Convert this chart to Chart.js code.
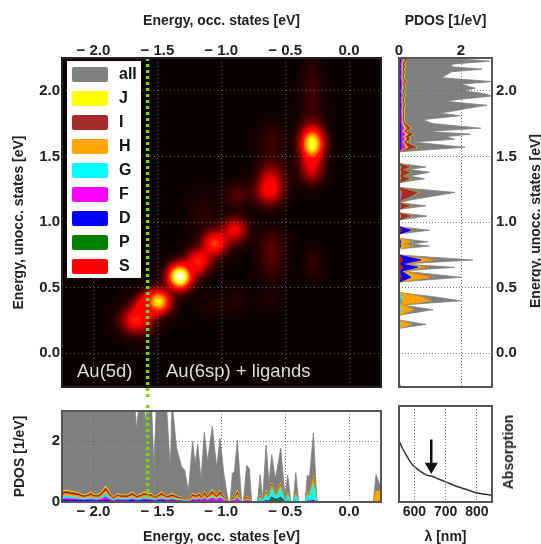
<!DOCTYPE html>
<html>
<head>
<meta charset="utf-8">
<script src="https://cdn.jsdelivr.net/npm/chart.js@4"></script>
<style>
  html, body { margin: 0; background: #fff; overflow: hidden; }
  #page { position: relative; width: 541px; height: 544px; font-family: "Liberation Sans", Arial, sans-serif; filter: blur(0.4px); }
  canvas { position: absolute; }
  .rot { position: absolute; font-weight: bold; font-size: 14px; color: #222; white-space: nowrap; transform: translate(-50%, -50%) rotate(-90deg); }
  .note { position: absolute; color: #ddd; font-size: 18.5px; white-space: nowrap; }
  #legend { position: absolute; left: 67px; top: 61px; width: 74px; height: 217px; background: #fff; }
  #legend div { position: absolute; left: 4.5px; width: 36px; height: 15px; border-radius: 2px; }
  #legend span { position: absolute; left: 52px; font-weight: bold; font-size: 16px; line-height: 18px; color: #111; }
</style>
</head>
<body>
<div id="page">
  <canvas id="mainChart" width="395" height="400" style="left:0;top:0"></canvas>
  <canvas id="rightChart" width="146" height="400" style="left:395px;top:0"></canvas>
  <canvas id="bottomChart" width="395" height="144" style="left:0;top:400px"></canvas>
  <canvas id="absChart" width="146" height="144" style="left:395px;top:400px"></canvas>
  <div id="legend"></div>
  <div class="note" style="left:77px;top:360px">Au(5d)</div>
  <div class="note" style="left:166px;top:360px">Au(6sp) + ligands</div>
  <div class="rot" style="left:535px;top:221px">Energy, unocc. states [eV]</div>
  <div class="rot" style="left:508px;top:452px">Absorption</div>
</div>
<script>
const legendNames = ["all", "J", "I", "H", "G", "F", "D", "P", "S"];
const legendColors = ["#808080", "#ffff00", "#a52a2a", "#ffa500", "#00ffff", "#ff00ff", "#0000ff", "#008000", "#ff0000"];

const occTicks = [-2.0, -1.5, -1.0, -0.5, 0.0];
const unoccTicks = [0.0, 0.5, 1.0, 1.5, 2.0];
const pdosSideTicks = [0, 2];
const pdosBottomTicks = [0, 2];
const lambdaTicks = [600, 700, 800];
const fermiLine = -1.576;

// bright spots of the transition map: occ energy, unocc energy, strength, widths in eV
const spotOcc = [-0.288, -0.293, -0.29, -0.624, -0.606, -0.606, -0.867, -0.893, -1.05, -1.18, -1.323, -1.493, -1.662, -1.585, -0.606, -0.606, -0.28, -0.606, -0.88, -1.06, -1.14];
const spotUnocc = [1.594, 1.396, 1.95, 1.231, 1.345, 1.61, 1.206, 0.939, 0.838, 0.698, 0.584, 0.393, 0.254, 0.368, 0.838, 0.685, 0.685, 0.406, 0.406, 0.355, 1.066];
const spotValue = [0.82, 0.26, 0.07, 0.32, 0.22, 0.07, 0.1, 0.34, 0.46, 0.42, 1.0, 0.74, 0.42, 0.38, 0.08, 0.08, 0.06, 0.03, 0.03, 0.03, 0.04];
const spotWidthOcc = [0.06, 0.06, 0.06, 0.07, 0.07, 0.07, 0.07, 0.065, 0.065, 0.065, 0.063, 0.065, 0.08, 0.06, 0.07, 0.07, 0.05, 0.06, 0.06, 0.07, 0.08];
const spotWidthUnocc = [0.085, 0.07, 0.22, 0.07, 0.08, 0.09, 0.06, 0.065, 0.065, 0.065, 0.063, 0.06, 0.07, 0.055, 0.08, 0.09, 0.07, 0.06, 0.06, 0.06, 0.11];

// side panel, top to bottom. Series are the running totals as they show on the picture
const sideEnergy = [
  2.246, 2.226, 2.203, 2.183, 2.165, 2.145, 2.10, 2.07, 2.05, 2.02,
  2.00, 1.98, 1.96, 1.94, 1.92, 1.89, 1.865, 1.85, 1.83, 1.81,
  1.78, 1.75, 1.715, 1.69, 1.67, 1.65, 1.63, 1.61, 1.57, 1.535,
  1.447, 1.42, 1.40, 1.38, 1.35, 1.33, 1.30, 1.264, 1.226, 1.19,
  1.17, 1.147, 1.124, 1.096, 1.071, 1.046, 1.015, 0.965, 0.937, 0.909,
  0.876, 0.85, 0.833, 0.817, 0.795, 0.749, 0.711, 0.68, 0.655, 0.627,
  0.579, 0.543, 0.462, 0.437, 0.40, 0.368, 0.332, 0.29, 0.254, 0.22,
  0.19, -0.24, -0.257
];
const sideAll = [
  1.8, 2.93, 1.7, 1.7, 2.68, 1.7, 1.37, 3.0, 2.0, 2.46,
  2.1, 2.7, 3.0, 2.15, 1.48, 2.84, 2.18, 1.85, 1.31, 1.97,
  0.77, 1.1, 2.64, 0.93, 2.3, 1.5, 1.8, 0.44, 2.13, 0,
  0, 0.87, 0.33, 0.98, 0.33, 0.82, 0, 0, 1.8, 0.93,
  0.4, 0, 0.87, 0, 0, 0.9, 0, 0, 0.98, 0,
  0, 0.93, 0.4, 0.98, 0, 0, 2.38, 0.1, 1.8, 0.1,
  2.0, 0, 0, 0.93, 2.0, 0.1, 1.1, 0, 0, 0.87,
  0, 0, 0.1
];
const sideJ = [
  0.22, 0.24, 0.17, 0.22, 0.16, 0.19, 0.16, 0.24, 0.18, 0.22,
  0.16, 0.19, 0.22, 0.16, 0.15, 0.22, 0.16, 0.16, 0.15, 0.19,
  0.16, 0.22, 0.38, 0.22, 0.47, 0.32, 0.37, 0.22, 0.57, 0,
  0, 0.37, 0.11, 0.37, 0.11, 0.37, 0, 0, 0.62, 0.37,
  0.11, 0, 0.37, 0, 0, 0.4, 0, 0, 0.46, 0,
  0, 0.44, 0.13, 0.44, 0, 0, 1.17, 0.13, 0.92, 0.13,
  1.07, 0, 0, 0.64, 1.04, 0.11, 0.49, 0, 0, 0.4,
  0, 0, 0.1
];
const sideI = [
  0.2, 0.22, 0.15, 0.2, 0.14, 0.17, 0.14, 0.22, 0.16, 0.2,
  0.14, 0.17, 0.2, 0.14, 0.13, 0.2, 0.14, 0.14, 0.13, 0.17,
  0.14, 0.2, 0.36, 0.2, 0.45, 0.3, 0.35, 0.2, 0.55, 0,
  0, 0.35, 0.1, 0.35, 0.1, 0.35, 0, 0, 0.6, 0.35,
  0.1, 0, 0.35, 0, 0, 0.38, 0, 0, 0.44, 0,
  0, 0.42, 0.12, 0.42, 0, 0, 1.15, 0.12, 0.9, 0.12,
  1.05, 0, 0, 0.62, 1.02, 0.1, 0.47, 0, 0, 0.38,
  0, 0, 0.1
];
const sideH = [
  0.14, 0.16, 0.11, 0.14, 0.11, 0.13, 0.11, 0.16, 0.12, 0.15,
  0.11, 0.13, 0.15, 0.11, 0.1, 0.15, 0.11, 0.11, 0.1, 0.13,
  0.11, 0.15, 0.26, 0.15, 0.3, 0.2, 0.25, 0.15, 0.3, 0,
  0, 0.06, 0.03, 0.06, 0.03, 0.05, 0, 0, 0.08, 0.05,
  0.03, 0, 0.06, 0, 0, 0.06, 0, 0, 0.42, 0,
  0, 0.4, 0.12, 0.4, 0, 0, 1.1, 0.12, 0.85, 0.12,
  1.0, 0, 0, 0.6, 1.0, 0.1, 0.45, 0, 0, 0.38,
  0, 0, 0.1
];
const sideG = [
  0.1, 0.11, 0.08, 0.1, 0.08, 0.1, 0.08, 0.11, 0.09, 0.11,
  0.08, 0.09, 0.11, 0.08, 0.08, 0.11, 0.09, 0.08, 0.08, 0.1,
  0.09, 0.1, 0.18, 0.11, 0.22, 0.14, 0.19, 0.12, 0.22, 0,
  0, 0.04, 0.02, 0.04, 0.02, 0.04, 0, 0, 0.05, 0.04,
  0.02, 0, 0.04, 0, 0, 0.04, 0, 0, 0.4, 0,
  0, 0.08, 0.04, 0.08, 0, 0, 0.75, 0.1, 0.66, 0.1,
  0.42, 0, 0, 0.07, 0.08, 0.03, 0.07, 0, 0, 0.05,
  0, 0, 0.1
];
const sideF = [
  0.08, 0.09, 0.06, 0.08, 0.06, 0.08, 0.06, 0.09, 0.07, 0.09,
  0.06, 0.07, 0.09, 0.06, 0.06, 0.09, 0.07, 0.06, 0.06, 0.08,
  0.07, 0.08, 0.16, 0.09, 0.2, 0.12, 0.17, 0.1, 0.2, 0,
  0, 0.03, 0.01, 0.03, 0.01, 0.03, 0, 0, 0.04, 0.03,
  0.01, 0, 0.03, 0, 0, 0.03, 0, 0, 0.39, 0,
  0, 0.06, 0.03, 0.06, 0, 0, 0.71, 0.09, 0.61, 0.09,
  0.39, 0, 0, 0.03, 0.04, 0.02, 0.03, 0, 0, 0.03,
  0, 0, 0.05
];
const sideD = [
  0.04, 0.05, 0.03, 0.04, 0.03, 0.04, 0.03, 0.05, 0.04, 0.05,
  0.03, 0.04, 0.05, 0.03, 0.03, 0.05, 0.03, 0.03, 0.03, 0.04,
  0.03, 0.04, 0.06, 0.04, 0.07, 0.05, 0.06, 0.04, 0.07, 0,
  0, 0.02, 0.01, 0.02, 0.01, 0.02, 0, 0, 0.03, 0.02,
  0.01, 0, 0.02, 0, 0, 0.02, 0, 0, 0.38, 0,
  0, 0.05, 0.03, 0.05, 0, 0, 0.7, 0.08, 0.6, 0.08,
  0.38, 0, 0, 0.02, 0.03, 0.01, 0.02, 0, 0, 0.02,
  0, 0, 0.05
];
const sideP = [
  0.015, 0.015, 0.015, 0.015, 0.015, 0.015, 0.015, 0.015, 0.015, 0.015,
  0.015, 0.015, 0.015, 0.015, 0.015, 0.015, 0.015, 0.015, 0.015, 0.015,
  0.015, 0.015, 0.015, 0.015, 0.025, 0.015, 0.025, 0.015, 0.035, 0,
  0, 0.01, 0, 0.01, 0, 0.01, 0, 0, 0.01, 0.01,
  0, 0, 0.01, 0, 0, 0.01, 0, 0, 0.09, 0,
  0, 0.01, 0, 0.01, 0, 0, 0.13, 0.02, 0.13, 0.02,
  0.07, 0, 0, 0.01, 0.01, 0, 0.01, 0, 0, 0.01,
  0, 0, 0.05
];
const sideS = [
  0.01, 0.01, 0.01, 0.01, 0.01, 0.01, 0.01, 0.01, 0.01, 0.01,
  0.01, 0.01, 0.01, 0.01, 0.01, 0.01, 0.01, 0.01, 0.01, 0.01,
  0.01, 0.01, 0.01, 0.01, 0.02, 0.01, 0.02, 0.01, 0.03, 0,
  0, 0, 0, 0, 0, 0, 0, 0, 0, 0,
  0, 0, 0, 0, 0, 0, 0, 0, 0.08, 0,
  0, 0, 0, 0, 0, 0, 0.12, 0.02, 0.12, 0.02,
  0.06, 0, 0, 0, 0, 0, 0, 0, 0, 0,
  0, 0, 0
];

// bottom panel, running totals again
const bottomEnergy = [
  -2.25, -2.21, -2.171, -2.119, -2.08, -2.04, -2.022, -2.0, -1.962, -1.936,
  -1.905, -1.876, -1.845, -1.813, -1.78, -1.735, -1.694, -1.662, -1.631, -1.602,
  -1.571, -1.545, -1.519, -1.467, -1.427, -1.383, -1.349, -1.297, -1.253, -1.224,
  -1.193, -1.172, -1.151, -1.133, -1.109, -1.07, -1.036, -1.01, -0.979, -0.944,
  -0.931, -0.913, -0.897, -0.874, -0.84, -0.827, -0.801, -0.78, -0.762, -0.717,
  -0.696, -0.676, -0.649, -0.626, -0.605, -0.579, -0.566, -0.535, -0.501, -0.48,
  -0.456, -0.436, -0.417, -0.394, -0.344, -0.326, -0.31, -0.279, -0.253, -0.24,
  0.19, 0.211, 0.25
];
const bottomJ = [
  0.36, 0.38, 0.35, 0.31, 0.23, 0.27, 0.33, 0.26, 0.25, 0.33,
  0.52, 0.33, 0.16, 0.27, 0.23, 0.23, 0.33, 0.21, 0.26, 0.33,
  0.28, 0.28, 0.18, 0.33, 0.2, 0.28, 0.2, 0.14, 0.06, 0.28,
  0.23, 0.31, 0.18, 0.35, 0.2, 0.41, 0.23, 0.38, 0.18, 0,
  0, 0.15, 0.18, 0.38, 0.02, 0, 0.19, 0.14, 0, 0,
  0.23, 0.07, 0.38, 0.18, 0.62, 0.28, 0.28, 0.62, 0.04, 0.31,
  0, 0, 0.33, 0, 0, 0.31, 0.28, 0.85, 0.07, 0,
  0, 0.38, 0.38
];
const bottomI = [
  0.33, 0.35, 0.32, 0.28, 0.21, 0.24, 0.3, 0.23, 0.22, 0.3,
  0.47, 0.3, 0.14, 0.24, 0.21, 0.21, 0.3, 0.19, 0.23, 0.3,
  0.25, 0.25, 0.16, 0.3, 0.18, 0.25, 0.18, 0.13, 0.05, 0.25,
  0.21, 0.28, 0.16, 0.32, 0.18, 0.37, 0.21, 0.35, 0.16, 0,
  0, 0.13, 0.16, 0.34, 0.01, 0, 0.17, 0.12, 0, 0,
  0.21, 0.06, 0.35, 0.17, 0.59, 0.26, 0.26, 0.59, 0.03, 0.28,
  0, 0, 0.31, 0, 0, 0.29, 0.26, 0.83, 0.06, 0,
  0, 0.37, 0.37
];
const bottomH = [
  0.25, 0.27, 0.24, 0.21, 0.15, 0.18, 0.22, 0.17, 0.16, 0.22,
  0.37, 0.22, 0.1, 0.18, 0.15, 0.15, 0.22, 0.13, 0.17, 0.22,
  0.18, 0.18, 0.12, 0.22, 0.13, 0.18, 0.13, 0.09, 0.04, 0.18,
  0.15, 0.2, 0.12, 0.23, 0.13, 0.27, 0.15, 0.25, 0.12, 0,
  0, 0.09, 0.11, 0.25, 0.01, 0, 0.12, 0.09, 0, 0,
  0.17, 0.05, 0.3, 0.14, 0.54, 0.24, 0.24, 0.54, 0.03, 0.26,
  0, 0, 0.27, 0, 0, 0.26, 0.24, 0.78, 0.05, 0,
  0, 0.36, 0.36
];
const bottomG = [
  0.18, 0.19, 0.17, 0.15, 0.11, 0.13, 0.16, 0.12, 0.12, 0.16,
  0.28, 0.16, 0.07, 0.13, 0.11, 0.11, 0.16, 0.09, 0.12, 0.16,
  0.13, 0.13, 0.08, 0.16, 0.09, 0.12, 0.09, 0.06, 0.02, 0.12,
  0.1, 0.14, 0.08, 0.16, 0.08, 0.19, 0.1, 0.18, 0.08, 0,
  0, 0.05, 0.07, 0.16, 0, 0, 0.07, 0.05, 0, 0,
  0.15, 0.04, 0.25, 0.12, 0.45, 0.2, 0.2, 0.45, 0.02, 0.22,
  0, 0, 0.24, 0, 0, 0.22, 0.2, 0.6, 0.03, 0,
  0, 0, 0
];
const bottomF = [
  0.11, 0.12, 0.11, 0.09, 0.07, 0.08, 0.1, 0.08, 0.07, 0.1,
  0.17, 0.1, 0.04, 0.08, 0.07, 0.07, 0.1, 0.06, 0.07, 0.1,
  0.08, 0.08, 0.05, 0.1, 0.06, 0.08, 0.05, 0.03, 0.01, 0.09,
  0.07, 0.1, 0.06, 0.12, 0.06, 0.13, 0.08, 0.13, 0.06, 0,
  0, 0.04, 0.05, 0.11, 0, 0, 0.06, 0.04, 0, 0,
  0.03, 0.01, 0.05, 0.03, 0.17, 0.09, 0.09, 0.16, 0.01, 0.03,
  0, 0, 0.03, 0, 0, 0.04, 0.03, 0.06, 0.01, 0,
  0, 0, 0
];
const bottomD = [
  0.06, 0.07, 0.06, 0.05, 0.04, 0.05, 0.05, 0.04, 0.04, 0.05,
  0.07, 0.05, 0.02, 0.04, 0.03, 0.04, 0.05, 0.03, 0.04, 0.05,
  0.04, 0.04, 0.03, 0.05, 0.03, 0.04, 0.03, 0.02, 0.01, 0.03,
  0.02, 0.03, 0.02, 0.03, 0.02, 0.03, 0.02, 0.03, 0.02, 0,
  0, 0.01, 0.01, 0.02, 0, 0, 0.01, 0.01, 0, 0,
  0.02, 0.01, 0.04, 0.02, 0.15, 0.08, 0.08, 0.15, 0.01, 0.02,
  0, 0, 0.02, 0, 0, 0.03, 0.02, 0.04, 0.01, 0,
  0, 0, 0
];
const bottomP = [
  0.01, 0.01, 0.01, 0.01, 0.01, 0.01, 0.01, 0.01, 0.01, 0.01,
  0.01, 0.01, 0.01, 0.01, 0.01, 0.01, 0.01, 0.01, 0.01, 0.01,
  0.01, 0.01, 0.01, 0.02, 0.01, 0.01, 0.01, 0, 0, 0.01,
  0.01, 0.01, 0.01, 0.01, 0.01, 0.01, 0.01, 0.01, 0.01, 0,
  0, 0, 0.01, 0.01, 0, 0, 0, 0, 0, 0,
  0.01, 0, 0.03, 0.02, 0.13, 0.07, 0.07, 0.13, 0.01, 0.01,
  0, 0, 0.02, 0, 0, 0.01, 0.01, 0.02, 0, 0,
  0, 0, 0
];
const bottomS = [
  0.01, 0.01, 0.01, 0.01, 0.01, 0.01, 0.01, 0.01, 0.01, 0.01,
  0.01, 0.01, 0.01, 0.01, 0.01, 0.01, 0.01, 0.01, 0.01, 0.01,
  0.01, 0, 0.01, 0.02, 0.01, 0.01, 0, 0, 0, 0,
  0, 0, 0, 0, 0, 0, 0, 0, 0, 0,
  0, 0, 0, 0, 0, 0, 0, 0, 0, 0,
  0, 0, 0, 0, 0, 0, 0, 0, 0, 0,
  0, 0, 0, 0, 0, 0, 0, 0, 0, 0,
  0, 0, 0
];
const bottomAllEnergy = [
  -2.25, -1.68, -1.673, -1.662, -1.64, -1.61, -1.592, -1.571, -1.545, -1.527,
  -1.506, -1.49, -1.47, -1.445, -1.43, -1.398, -1.385, -1.35, -1.31, -1.285,
  -1.258, -1.224, -1.205, -1.184, -1.158, -1.133, -1.107, -1.07, -1.036, -1.01,
  -0.98, -0.944, -0.931, -0.913, -0.897, -0.874, -0.84, -0.827, -0.801, -0.78,
  -0.762, -0.717, -0.696, -0.676, -0.649, -0.626, -0.605, -0.579, -0.566, -0.535,
  -0.501, -0.48, -0.456, -0.436, -0.417, -0.394, -0.344, -0.326, -0.31, -0.279,
  -0.253, -0.24, 0.19, 0.211, 0.243, 0.25
];
const bottomAll = [
  3.6, 3.6, 3.0, 2.4, 3.4, 3.4, 2.65, 3.4, 3.2, 1.15,
  3.4, 3.6, 2.9, 3.4, 3.3, 1.05, 3.3, 1.8, 1.15, 1.05,
  0.35, 2.0, 1.25, 1.9, 0.75, 2.3, 1.35, 2.5, 1.15, 2.1,
  0.95, 0, 0, 0.95, 1.0, 2.03, 0, 0, 1.2, 1.1,
  0, 0, 0.9, 0.1, 1.88, 0.6, 1.57, 0.8, 1.0, 1.77,
  0.2, 0.9, 0, 0, 0.97, 0, 0, 0.9, 0.8, 2.27,
  0.1, 0, 0, 0.9, 0.55, 0.5
];

const absLambda = [551, 562, 576, 591, 607, 623, 639, 655, 677, 700, 730, 762, 794, 826, 849];
const absValue = [0.64, 0.56, 0.48, 0.40, 0.35, 0.31, 0.28, 0.27, 0.24, 0.21, 0.17, 0.135, 0.10, 0.08, 0.07];
const arrowLambda = [654, 654];
const arrowValue = [0.65, 0.37];

const boldTick = { family: "'Liberation Sans', Arial, sans-serif", weight: "bold", size: 15 };
const boldTitle = { family: "'Liberation Sans', Arial, sans-serif", weight: "bold", size: 14, lineHeight: 1 };
const textColor = "#222";
const lineGreen = "#72d800";

function pairs(xs, ys) {
  return xs.map((x, i) => ({ x: x, y: ys[i] }));
}

function fixedTicks(values) {
  return function(scale) { scale.ticks = values.map(v => ({ value: v })); };
}

function energyLabel(v) {
  return v < 0 ? "\u2212 " + Math.abs(v).toFixed(1) : Number(v).toFixed(1);
}

function hot(v) {
  const r = Math.min(1, v / 0.365);
  const g = Math.max(0, Math.min(1, (v - 0.365) / 0.38));
  const b = Math.max(0, Math.min(1, (v - 0.746) / 0.254));
  return "rgb(" + Math.round(r * 255) + "," + Math.round(g * 255) + "," + Math.round(b * 255) + ")";
}

// soft elliptical sprite for one bright spot, used as its point style
function spotSprite(value, widthX, widthY) {
  const sx = widthX * 127.8, sy = widthY * 131.3;
  const c = document.createElement("canvas");
  c.width = Math.ceil(sx * 7);
  c.height = Math.ceil(sy * 7);
  const g = c.getContext("2d");
  g.translate(c.width / 2, c.height / 2);
  g.scale(sx, sy);
  const grad = g.createRadialGradient(0, 0, 0, 0, 0, 3.4);
  for (let i = 0; i <= 24; i++) {
    const r = i / 24 * 3.4;
    grad.addColorStop(i / 24, hot(value * Math.exp(-r * r / 2)));
  }
  g.fillStyle = grad;
  g.fillRect(-3.5, -3.5, 7, 7);
  return c;
}

const spotSprites = spotValue.map((v, i) => spotSprite(v, spotWidthOcc[i], spotWidthUnocc[i]));

function frame(color, fillColor) {
  return {
    id: "frame",
    beforeDraw(chart) {
      if (!fillColor) return;
      const a = chart.chartArea;
      chart.ctx.fillStyle = fillColor;
      chart.ctx.fillRect(a.left, a.top, a.width, a.height);
    },
    beforeDatasetDraw(chart, args) {
      if (chart.data.datasets[args.index].additive) chart.ctx.globalCompositeOperation = "lighter";
    },
    afterDatasetDraw(chart) {
      chart.ctx.globalCompositeOperation = "source-over";
    },
    afterDraw(chart) {
      const a = chart.chartArea;
      chart.ctx.strokeStyle = color;
      chart.ctx.lineWidth = 2;
      chart.ctx.strokeRect(a.left, a.top, a.width, a.height);
    }
  };
}

function axis(position, size, min, max, tickValues, extra) {
  const horizontal = position === "top" || position === "bottom";
  return Object.assign({
    type: "linear",
    position: position,
    min: min,
    max: max,
    afterBuildTicks: fixedTicks(tickValues),
    afterFit: function(s) { if (horizontal) s.height = size; else s.width = size; },
    border: { display: false, dash: [1, 2] },
    grid: { color: "rgba(100,100,100,0.85)", lineWidth: 1, tickLength: 0, z: 1 },
    ticks: { font: boldTick, color: textColor, padding: 1, maxRotation: 0, autoSkip: false }
  }, extra);
}

function filled(label, color, xs, ys) {
  return {
    label: label, data: pairs(xs, ys), backgroundColor: color, borderColor: color,
    borderWidth: 0.8, fill: "origin", pointRadius: 0, tension: 0
  };
}

const baseOptions = {
  responsive: false,
  animation: false,
  devicePixelRatio: 1,
  plugins: { legend: { display: false }, tooltip: { enabled: false } }
};

const mapGrid = { color: "rgba(170,170,170,0.55)", lineWidth: 1, tickLength: 0, z: 1 };

new Chart(document.getElementById("mainChart"), {
  type: "scatter",
  data: {
    datasets: [
      {
        data: [{ x: fermiLine, y: 2.25 }, { x: fermiLine, y: -0.36 }],
        showLine: true, borderColor: lineGreen, borderWidth: 3.5, borderDash: [3, 3],
        pointRadius: 0, clip: false
      },
      {
        additive: true,
        data: pairs(spotOcc, spotUnocc),
        pointStyle: c => spotSprites[c.dataIndex],
        pointRadius: 1
      }
    ]
  },
  options: Object.assign({}, baseOptions, {
    layout: { autoPadding: false, padding: { right: 14, bottom: 13 } },
    scales: {
      x: axis("top", 58, -2.246, 0.25, occTicks, {
        title: { display: true, text: "Energy, occ. states [eV]", font: boldTitle, color: textColor, padding: { top: 14, bottom: 0 } },
        ticks: { font: boldTick, color: textColor, padding: -2, maxRotation: 0, autoSkip: false, callback: energyLabel },
        border: { display: false, dash: [1, 3] },
        grid: mapGrid
      }),
      y: axis("left", 62, -0.257, 2.25, unoccTicks, {
        title: { display: true, text: "Energy, unocc. states [eV]", font: boldTitle, color: textColor, padding: { top: 12, bottom: 0 } },
        ticks: { font: boldTick, color: textColor, padding: 2, maxRotation: 0, autoSkip: false, callback: energyLabel },
        border: { display: false, dash: [1, 3] },
        grid: mapGrid
      })
    }
  }),
  plugins: [frame("#222", "#0c0000")]
});

new Chart(document.getElementById("rightChart"), {
  type: "line",
  data: {
    datasets: [
      filled("S", "#ff0000", sideS, sideEnergy),
      filled("P", "#008000", sideP, sideEnergy),
      filled("D", "#0000ff", sideD, sideEnergy),
      filled("F", "#ff00ff", sideF, sideEnergy),
      filled("G", "#00ffff", sideG, sideEnergy),
      filled("H", "#ffa500", sideH, sideEnergy),
      filled("I", "#a52a2a", sideI, sideEnergy),
      filled("J", "#ffff00", sideJ, sideEnergy),
      filled("all", "#808080", sideAll, sideEnergy)
    ]
  },
  options: Object.assign({}, baseOptions, {
    indexAxis: "y",
    layout: { autoPadding: false, padding: { left: 4, bottom: 13 } },
    scales: {
      x: axis("top", 58, 0, 3, pdosSideTicks, {
        title: { display: true, text: "PDOS [1/eV]", font: boldTitle, color: textColor, padding: { top: 14, bottom: 0 } },
        ticks: { font: boldTick, color: textColor, padding: -2, maxRotation: 0, autoSkip: false, callback: v => String(v) }
      }),
      y: axis("right", 49, -0.257, 2.25, unoccTicks, {
        ticks: { font: boldTick, color: textColor, padding: 4, maxRotation: 0, autoSkip: false, callback: energyLabel }
      })
    }
  }),
  plugins: [frame("#555")]
});

new Chart(document.getElementById("bottomChart"), {
  type: "line",
  data: {
    datasets: [
      {
        data: [{ x: fermiLine, y: 3.2 }, { x: fermiLine, y: 0 }],
        borderColor: lineGreen, borderWidth: 3.5, borderDash: [3, 3], pointRadius: 0, clip: false
      },
      filled("S", "#ff0000", bottomEnergy, bottomS),
      filled("P", "#008000", bottomEnergy, bottomP),
      filled("D", "#0000ff", bottomEnergy, bottomD),
      filled("F", "#ff00ff", bottomEnergy, bottomF),
      filled("G", "#00ffff", bottomEnergy, bottomG),
      filled("H", "#ffa500", bottomEnergy, bottomH),
      filled("I", "#a52a2a", bottomEnergy, bottomI),
      filled("J", "#ffff00", bottomEnergy, bottomJ),
      filled("all", "#808080", bottomAllEnergy, bottomAll)
    ]
  },
  options: Object.assign({}, baseOptions, {
    layout: { autoPadding: false, padding: { top: 6, right: 14 } },
    scales: {
      x: axis("bottom", 42, -2.246, 0.25, occTicks, {
        title: { display: true, text: "Energy, occ. states [eV]", font: boldTitle, color: textColor, padding: { top: 0, bottom: 0 } },
        ticks: { font: boldTick, color: textColor, padding: 1, maxRotation: 0, autoSkip: false, callback: energyLabel }
      }),
      y: axis("left", 62, 0, 3, pdosBottomTicks, {
        title: { display: true, text: "PDOS [1/eV]", font: boldTitle, color: textColor, padding: { top: 13, bottom: 0 } },
        ticks: { font: boldTick, color: textColor, padding: 2, maxRotation: 0, autoSkip: false, callback: v => String(v) }
      })
    }
  }),
  plugins: [frame("#555")]
});

new Chart(document.getElementById("absChart"), {
  type: "line",
  data: {
    datasets: [
      {
        data: pairs(arrowLambda, arrowValue),
        borderColor: "#111", borderWidth: 2.5,
        pointStyle: "triangle", pointRotation: 180,
        pointRadius: [0, 5], backgroundColor: "#111", borderJoinStyle: "miter"
      },
      {
        data: pairs(absLambda, absValue),
        borderColor: "#333", borderWidth: 1.5, pointRadius: 0, cubicInterpolationMode: "monotone"
      }
    ]
  },
  options: Object.assign({}, baseOptions, {
    layout: { autoPadding: false, padding: { left: 4, top: 6 } },
    scales: {
      x: axis("bottom", 42, 551, 848, lambdaTicks, {
        title: { display: true, text: "\u03bb [nm]", font: boldTitle, color: textColor, padding: { top: 0, bottom: 0 } },
        ticks: { font: { family: boldTick.family, weight: "bold", size: 14 }, color: textColor, padding: 2, maxRotation: 0, autoSkip: false, callback: v => String(v) }
      }),
      y: axis("right", 49, 0, 1, [], {
        grid: { display: false },
        ticks: { display: false }
      })
    }
  }),
  plugins: [frame("#555")]
});

legendNames.forEach((name, i) => {
  const box = document.getElementById("legend");
  const swatch = document.createElement("div");
  swatch.style.top = (5.8 + i * 24) + "px";
  swatch.style.background = legendColors[i];
  const label = document.createElement("span");
  label.textContent = name;
  label.style.top = (4.3 + i * 24) + "px";
  box.appendChild(swatch);
  box.appendChild(label);
});
</script>
</body>
</html>
